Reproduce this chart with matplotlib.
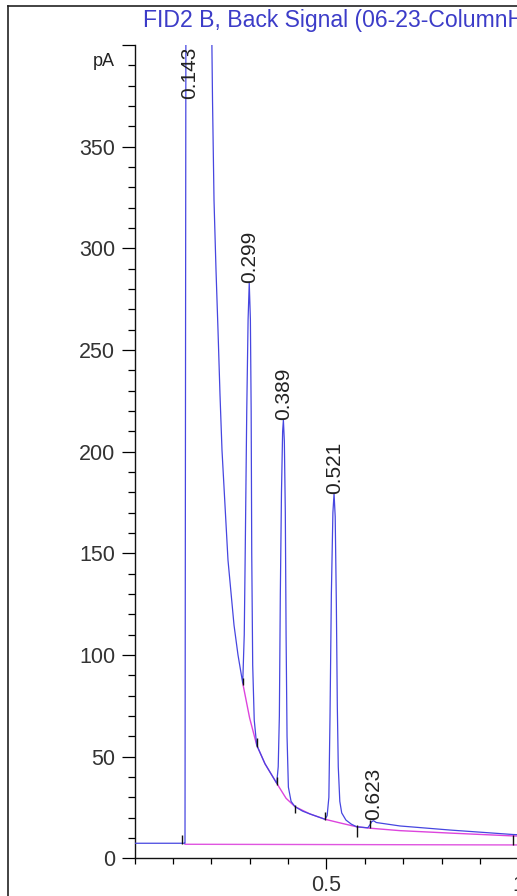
import numpy as np
import matplotlib
matplotlib.use('Agg')
from matplotlib import pyplot as plt
from matplotlib.lines import Line2D
from matplotlib.ticker import MultipleLocator, FixedLocator, FixedFormatter

plt.rcParams['font.family'] = ['Liberation Sans', 'DejaVu Sans']

# signal trace (min, pA); solvent peak goes off scale
trace_t = [0.000, 0.1310, 0.1316, 0.1340, 0.1430, 0.2005, 0.2033, 0.2072, 0.2124,
           0.2176, 0.2228, 0.2280, 0.2436, 0.2593, 0.2697, 0.2820,
           0.2860, 0.2885, 0.2925, 0.2960, 0.2990, 0.3020, 0.3040, 0.3055, 0.3080,
           0.3120, 0.3184, 0.3400, 0.3706,
           0.3745, 0.3775, 0.3800, 0.3830, 0.3860, 0.3880, 0.3905, 0.3930, 0.3950,
           0.3975, 0.4010, 0.4080, 0.4182, 0.4380, 0.4573, 0.4964,
           0.5020, 0.5065, 0.5095, 0.5130, 0.5170, 0.5200, 0.5230, 0.5260, 0.5285,
           0.5310, 0.5350, 0.5400, 0.5510, 0.5650, 0.5790,
           0.6080, 0.6137, 0.6180, 0.6230, 0.6300, 0.6919, 0.8222, 0.9863, 1.0500]
trace_pA = [7.4, 7.4, 7.4, 420, 1500, 420, 372.9, 323.6, 289.3,
            259.7, 228.0, 200.7, 146.7, 114.7, 100.0, 86.2,
            110, 150, 220, 265, 283, 265, 220, 150, 95,
            68, 55.7, 46.5, 36.9,
            45, 70, 130, 180, 210, 215.5, 205, 170, 110,
            60, 35, 28, 25.4, 23.2, 21.8, 19.2,
            21, 30, 70, 130, 170, 179.4, 168, 125, 75,
            45, 28, 22.3, 18.8, 16.8, 15.5,
            15.0, 16.5, 18.0, 18.5, 17.6, 15.9, 13.9, 11.7, 11.2]

# tangent skim baseline under the solvent tail
skim_t = [0.2820, 0.3000, 0.3184, 0.3400, 0.3706, 0.3950, 0.4182, 0.4573, 0.4964,
          0.5400, 0.5790, 0.6137, 0.6919, 0.8222, 0.9871, 1.0500]
skim_pA = [86.2, 69.0, 55.7, 46.5, 36.9, 29.5, 25.4, 21.8, 19.2,
           17.2, 15.5, 14.8, 13.6, 12.4, 11.0, 10.7]

# flat baseline from injection
floor_t = [0.1316, 1.0500]
floor_pA = [6.9, 6.55]

# baseline start/stop marks
mark_t = [0.1225, 0.2820, 0.3184, 0.3706, 0.4182, 0.4964, 0.5790, 0.6137, 0.9871]
mark_lo = [7.0, 85.1, 54.9, 36.0, 22.1, 18.8, 10.6, 14.7, 6.5]
mark_hi = [11.5, 88.6, 59.2, 40.1, 26.2, 22.9, 16.4, 18.8, 11.5]

# peak labels
peak_rt = [0.143, 0.299, 0.389, 0.521, 0.623]
peak_top = [399, 283, 215.5, 179.4, 19.0]
peak_txt = ['0.143', '0.299', '0.389', '0.521', '0.623']

title = 'FID2 B, Back Signal (06-23-ColumnHeatingTest.D)'

W, H = 517, 896
fig = plt.figure(figsize=(W / 100, H / 100), dpi=100)
fig.patch.set_facecolor('white')

x0, y0 = 134.5, 858.3
pxx, pxy = 383.75, 2.0333
ax = fig.add_axes([x0 / W, (H - y0) / H, 1.05 * pxx / W, 400 * pxy / H])
ax.set_xlim(0, 1.05)
ax.set_ylim(0, 400)

ax.plot(floor_t, floor_pA, color='#e055e0', lw=1.0, zorder=2)
ax.plot(skim_t, skim_pA, color='#dd44dd', lw=1.0, zorder=2)
ax.plot(trace_t, trace_pA, color='#4646e0', lw=0.9, zorder=3)
ax.vlines(mark_t, mark_lo, mark_hi, color='#111111', lw=1.0, zorder=4)

for rt, top, txt in zip(peak_rt, peak_top, peak_txt):
    va = 'top' if top > 390 else 'bottom'
    ax.text(rt, top, txt, rotation=90, ha='center', va=va, fontsize=15,
            color='#222222', zorder=5)

for s in ['top', 'right']:
    ax.spines[s].set_visible(False)
for s in ['left', 'bottom']:
    ax.spines[s].set_linewidth(1.0)
    ax.spines[s].set_color('#111111')

yt = list(range(0, 401, 50))
ax.yaxis.set_major_locator(FixedLocator(yt))
ax.yaxis.set_major_formatter(FixedFormatter([str(v) for v in yt[:-1]] + ['']))
ax.yaxis.set_minor_locator(MultipleLocator(10))
ax.xaxis.set_major_locator(FixedLocator([0.5, 1.0]))
ax.xaxis.set_major_formatter(FixedFormatter(['0.5', '1']))
ax.xaxis.set_minor_locator(MultipleLocator(0.1))
ax.tick_params(axis='y', which='major', length=9.5, width=0.9, pad=4.5,
               labelsize=15.5, labelcolor='#333333')
ax.tick_params(axis='y', which='minor', length=5, width=0.9)
ax.tick_params(axis='x', which='major', length=8, width=0.9, pad=4,
               labelsize=15.5, labelcolor='#333333')
ax.tick_params(axis='x', which='minor', length=4.3, width=0.9)

fig.text(115 / W, 1 - 61 / H, 'pA', ha='right', va='center', fontsize=13,
         color='#222222')
fig.text(143 / W, 1 - 26.5 / H, title, ha='left', va='baseline', fontsize=16.6,
         color='#3c3cc8')

# outer frame of the report page
fig.add_artist(Line2D([8 / W, 8 / W], [0, 1 - 6 / H], transform=fig.transFigure,
                      color='#222222', lw=1.2))
fig.add_artist(Line2D([8 / W, 1], [1 - 6 / H, 1 - 6 / H], transform=fig.transFigure,
                      color='#222222', lw=1.2))

fig.savefig('out.png', dpi=100)
